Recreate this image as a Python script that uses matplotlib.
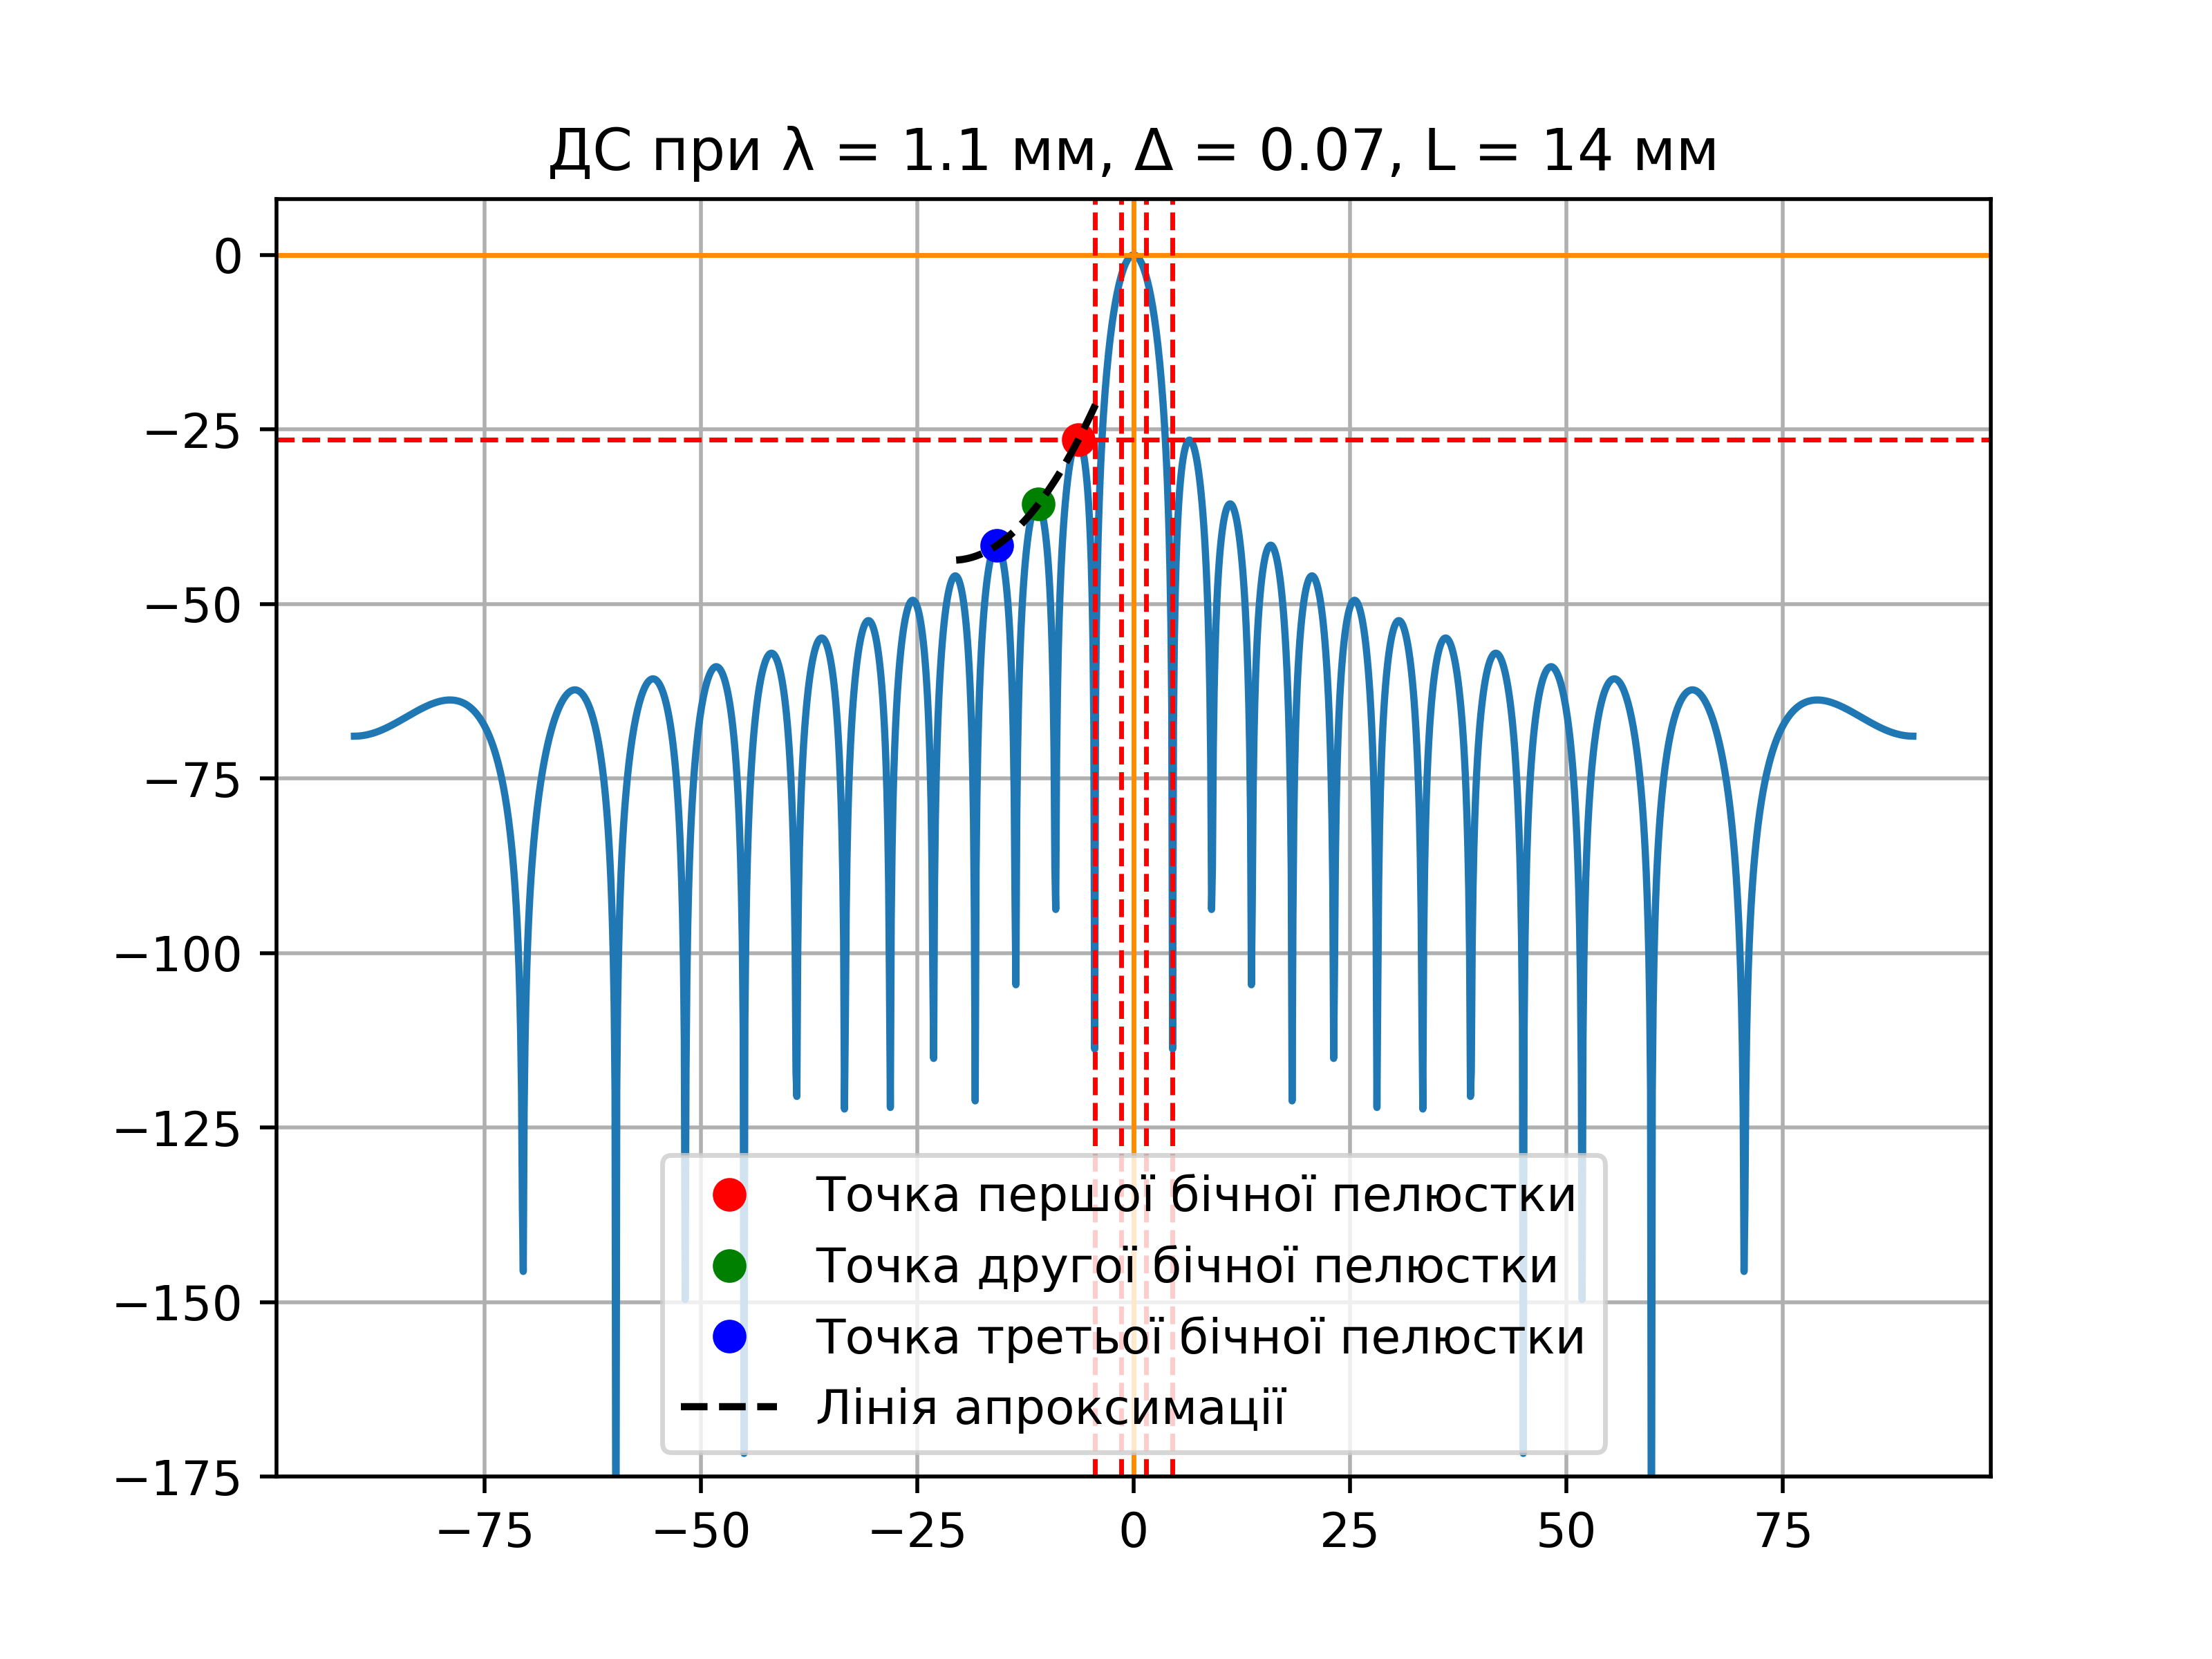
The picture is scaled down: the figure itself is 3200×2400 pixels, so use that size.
import numpy as np
import matplotlib
matplotlib.use("Agg")
import matplotlib.pyplot as plt

wavelength = 1.1   # mm
L = 14.0           # mm
delta = 0.07
theta_range = [-90, 90]
sidelobe_level = -26.5
hp_lines = [-1.43, 1.43]
null_lines = [-4.5, 4.5]
pts_x = [-6.4, -11.0, -15.8]
pts_y = [-26.5, -35.7, -41.6]
pt_colors = ['red', 'green', 'blue']
pt_labels = ['Точка першої бічної пелюстки', 'Точка другої бічної пелюстки',
             'Точка третьої бічної пелюстки']
approx_x = [-20.5, -4.0]

theta = np.linspace(theta_range[0], theta_range[1], 1801)
u = np.pi * L / wavelength * np.sin(np.radians(theta))
F = np.abs(np.sinc(u / np.pi)) ** 2
F = np.maximum(F, 1e-300)
dB = 20 * np.log10(F)

fig, ax = plt.subplots(figsize=(6.4, 4.8), dpi=500)
ax.plot(theta, dB, color='#1f77b4')
ax.axhline(0, color='darkorange', lw=1)
ax.axvline(0, color='darkorange', lw=1)
ax.axhline(sidelobe_level, color='red', ls='--', lw=1)
for x in hp_lines + null_lines:
    ax.axvline(x, color='red', ls='--', lw=1)
for x, y, c, lab in zip(pts_x, pts_y, pt_colors, pt_labels):
    ax.plot(x, y, 'o', color=c, label=lab)
coef = np.polyfit(pts_x, pts_y, 2)
xa = np.linspace(approx_x[0], approx_x[1], 100)
ax.plot(xa, np.polyval(coef, xa), 'k--', label='Лінія апроксимації')
ax.set_ylim(-175, 8)
ax.grid(True)
ax.set_title('ДС при λ = 1.1 мм, Δ = 0.07, L = 14 мм')
ax.legend(loc='lower center')
fig.savefig('out.png')
